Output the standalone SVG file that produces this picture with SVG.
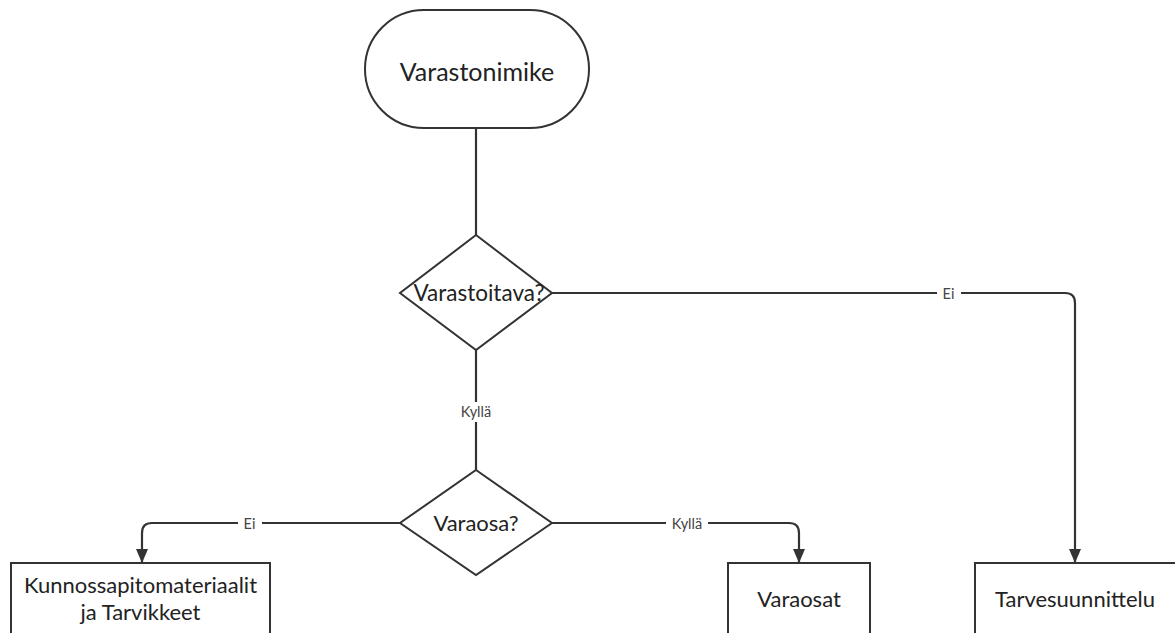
<svg xmlns="http://www.w3.org/2000/svg" width="1175" height="633" viewBox="0 0 1175 633">
<style>
.shape{fill:#fff;stroke:#333;stroke-width:2}
.conn{fill:none;stroke:#333;stroke-width:2.2}
.t{font-family:Lato,"Liberation Sans",sans-serif;font-size:22px;fill:#222;text-anchor:middle}
.big{font-size:25px}
.lbl{font-family:Lato,"Liberation Sans",sans-serif;font-size:14.5px;fill:#444;text-anchor:middle}
.lblbg{fill:#fff}
</style>
<defs>
<marker id="arr" markerWidth="16" markerHeight="12" refX="14" refY="6" orient="auto" markerUnits="userSpaceOnUse">
<path d="M0,0 L14,6 L0,12 Z" fill="#333"/>
</marker>
</defs>
<rect width="1175" height="633" fill="#fff"/>
<g id="connectors">
<path class="conn" d="M476,128 V235"/>
<path class="conn" d="M552,293 H1065 Q1075,293 1075,303 V563" marker-end="url(#arr)"/>
<path class="conn" d="M476,350 V470"/>
<path class="conn" d="M400,523 H152 Q142,523 142,533 V563" marker-end="url(#arr)"/>
<path class="conn" d="M552,523 H789 Q799,523 799,533 V563" marker-end="url(#arr)"/>
<rect class="lblbg" x="937" y="284" width="24" height="18"/>
<text class="lbl" x="948.5" y="298.5">Ei</text>
<rect class="lblbg" x="457" y="402" width="38" height="20"/>
<text class="lbl" x="476" y="417">Kyllä</text>
<rect class="lblbg" x="238" y="514" width="24" height="18"/>
<text class="lbl" x="249.5" y="528.5">Ei</text>
<rect class="lblbg" x="666" y="514" width="42" height="18"/>
<text class="lbl" x="687" y="528.5">Kyllä</text>
</g>
<g id="n-varastonimike">
<rect class="shape" x="365" y="10" width="224" height="118" rx="59"/>
<text class="t big" x="477" y="81">Varastonimike</text>
</g>
<g id="n-varastoitava">
<polygon class="shape" points="476,235 552,293 476,350 400,293"/>
<text class="t" x="479" y="301" style="font-size:22.5px">Varastoitava?</text>
</g>
<g id="n-varaosa">
<polygon class="shape" points="476,470 552,523 476,575 400,523"/>
<text class="t" x="476" y="531">Varaosa?</text>
</g>
<g id="n-kunnossapito">
<rect class="shape" x="11" y="563" width="259" height="90"/>
<text class="t" x="140.5" y="593">Kunnossapitomateriaalit</text>
<text class="t" x="140.5" y="620">ja Tarvikkeet</text>
</g>
<g id="n-varaosat">
<rect class="shape" x="728" y="563" width="142" height="90"/>
<text class="t" x="799" y="607">Varaosat</text>
</g>
<g id="n-tarvesuunnittelu">
<rect class="shape" x="975" y="563" width="210" height="90"/>
<text class="t" x="1075" y="607">Tarvesuunnittelu</text>
</g>
</svg>
